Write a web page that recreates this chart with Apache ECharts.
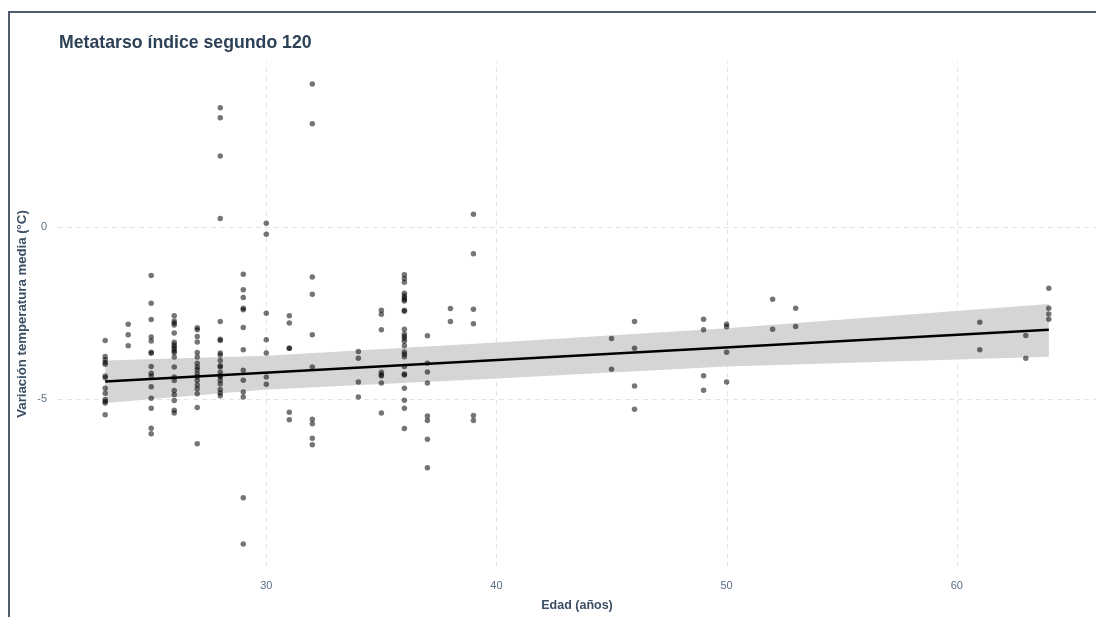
<!DOCTYPE html>
<html>
<head>
<meta charset="utf-8">
<script src="https://cdn.jsdelivr.net/npm/echarts@6/dist/echarts.min.js"></script>
<style>
  html, body { margin: 0; padding: 0; background: #fff; overflow: hidden; }
  #chart { position: absolute; left: 0; top: 0; width: 1096px; height: 617px; }
  #frame { position: absolute; left: 8px; top: 11px; width: 3000px; height: 3000px;
           border: 2px solid #4e5c6b; box-sizing: border-box; pointer-events: none; }
</style>
</head>
<body>
<div id="chart"></div>
<div id="frame"></div>
<script>
// ---- data ----
const chartTitle = "Metatarso índice segundo 120";
const xAxisTitle = "Edad (años)";
const yAxisTitle = "Variación temperatura media (°C)";
const xTicks = [30, 40, 50, 60];
const yTicks = [-5, 0];

const ages = [23, 24, 25, 26, 27, 28, 29, 30, 31, 32, 34, 35, 36, 37, 38, 39, 45, 46, 49, 50, 52, 53, 61, 63, 64];
const valuesByAge = [
  [-3.30,-3.76,-3.86,-3.94,-3.99,-4.33,-4.38,-4.68,-4.83,-5.01,-5.07,-5.11,-5.45],
  [-2.83,-3.13,-3.45],
  [-1.41,-2.22,-2.69,-3.20,-3.31,-3.64,-3.67,-4.05,-4.25,-4.33,-4.64,-4.97,-5.26,-5.84,-6.00],
  [-2.58,-2.73,-2.79,-2.85,-3.08,-3.35,-3.42,-3.48,-3.54,-3.60,-3.65,-3.78,-4.07,-4.36,-4.46,-4.75,-4.87,-5.04,-5.32,-5.40],
  [-2.93,-2.99,-3.18,-3.34,-3.65,-3.78,-3.96,-4.07,-4.15,-4.26,-4.35,-4.46,-4.59,-4.70,-4.84,-5.24,-6.29],
  [3.45,3.16,2.05,0.24,-2.75,-3.26,-3.30,-3.66,-3.72,-3.88,-4.03,-4.07,-4.22,-4.32,-4.35,-4.46,-4.56,-4.72,-4.82,-4.90],
  [-1.38,-1.83,-2.05,-2.36,-2.41,-2.92,-3.57,-4.16,-4.45,-4.79,-4.94,-7.86,-9.20],
  [0.10,-0.22,-2.51,-3.28,-3.66,-4.36,-4.57],
  [-2.58,-2.79,-3.52,-3.52,-5.38,-5.60],
  [4.14,2.99,-1.46,-1.96,-3.13,-4.07,-5.58,-5.71,-6.13,-6.32],
  [-3.62,-3.81,-4.50,-4.94],
  [-2.42,-2.54,-2.99,-4.22,-4.29,-4.33,-4.53,-5.40],
  [-1.39,-1.50,-1.61,-1.93,-2.00,-2.06,-2.11,-2.15,-2.42,-2.45,-2.97,-3.11,-3.18,-3.24,-3.32,-3.45,-3.63,-3.70,-3.77,-4.05,-4.27,-4.30,-4.68,-5.03,-5.26,-5.85],
  [-3.16,-3.96,-4.21,-4.53,-5.49,-5.62,-6.16,-6.99],
  [-2.37,-2.75],
  [0.36,-0.78,-2.39,-2.81,-5.47,-5.62],
  [-3.24,-4.13],
  [-2.75,-3.52,-4.62,-5.29],
  [-2.68,-2.99,-4.32,-4.74],
  [-2.83,-2.90,-3.64,-4.50],
  [-2.10,-2.97],
  [-2.36,-2.89],
  [-2.77,-3.57],
  [-3.15,-3.81],
  [-1.78,-2.36,-2.53,-2.68]
];

// fitted trend line and its confidence band
const fitX = [23, 64];
const fitY = [-4.49, -2.99];
const bandX = [23, 30, 40, 50, 64];
const bandLow = [-5.11, -4.72, -4.40, -4.05, -3.77];
const bandHigh = [-3.88, -3.74, -3.36, -2.94, -2.24];

// ---- build marks ----
const points = [];
ages.forEach((a, i) => valuesByAge[i].forEach(v => points.push([a, v])));
const fitLine = fitX.map((x, i) => [x, fitY[i]]);
const bandPoly = bandX.map((x, i) => [x, bandHigh[i]])
  .concat(bandX.map((x, i) => [x, bandLow[i]]).reverse());

// ---- axis ranges (5% expansion of the data range) ----
const allY = points.map(p => p[1]);
const yMinD = Math.min(...allY), yMaxD = Math.max(...allY);
const xMinD = Math.min(...ages), xMaxD = Math.max(...ages);
const xPad = (xMaxD - xMinD) * 0.05, yPad = (yMaxD - yMinD) * 0.05;
const xMin = xMinD - xPad, xMax = xMaxD + xPad, yMin = yMinD - yPad, yMax = yMaxD + yPad;

const FONT = 'Liberation Sans, Arial, sans-serif';
const tickColor = '#5a6f85';

const chart = echarts.init(document.getElementById('chart'), null, { renderer: 'canvas' });
chart.setOption({
  animation: false,
  backgroundColor: '#ffffff',
  title: {
    text: chartTitle, left: 54, top: 29,
    textStyle: { fontFamily: FONT, fontWeight: 'bold', fontSize: 17.7, color: '#2e4257' }
  },
  grid: { left: 58, right: 0, top: 61, bottom: 48, containLabel: false },
  xAxis: {
    type: 'value', min: xMin, max: xMax,
    name: xAxisTitle, nameLocation: 'middle', nameGap: 32, nameMoveOverlap: false,
    nameTextStyle: { fontFamily: FONT, fontWeight: 'bold', fontSize: 12.5, color: '#3b4e63' },
    axisLine: { show: false }, axisTick: { show: false },
    axisLabel: { customValues: xTicks, color: tickColor, fontSize: 11, fontFamily: FONT, margin: 13 },
    splitLine: { show: false }
  },
  yAxis: {
    type: 'value', min: yMin, max: yMax,
    name: yAxisTitle, nameLocation: 'middle', nameGap: 29, nameRotate: 90, nameMoveOverlap: false,
    nameTextStyle: { fontFamily: FONT, fontWeight: 'bold', fontSize: 13.2, color: '#3b4e63' },
    axisLine: { show: false }, axisTick: { show: false },
    axisLabel: { customValues: yTicks, color: tickColor, fontSize: 11, fontFamily: FONT, margin: 11 },
    splitLine: { show: false }
  },
  series: [
    { // dashed gridlines at the tick values
      type: 'custom', z: 0, silent: true, data: [[xTicks[0], yTicks[0]]],
      renderItem: (params, api) => {
        const children = [];
        const style = { stroke: '#e4e4e4', lineWidth: 1, lineDash: [5, 4] };
        xTicks.forEach(v => {
          const a = api.coord([v, yMin]), b = api.coord([v, yMax]);
          children.push({ type: 'line', shape: { x1: Math.round(a[0]) + 0.5, y1: a[1], x2: Math.round(b[0]) + 0.5, y2: b[1] }, style });
        });
        yTicks.forEach(v => {
          const a = api.coord([xMin, v]), b = api.coord([xMax, v]);
          children.push({ type: 'line', shape: { x1: a[0], y1: Math.round(a[1]) + 0.5, x2: b[0], y2: Math.round(b[1]) + 0.5 }, style });
        });
        return { type: 'group', children };
      }
    },
    { // confidence band
      type: 'custom', z: 1, silent: true, data: [[bandX[0], fitY[0]]],
      renderItem: (params, api) => ({
        type: 'polygon',
        shape: { points: bandPoly.map(p => api.coord(p)) },
        style: { fill: '#d5d5d5' }
      })
    },
    { type: 'scatter', data: points, symbolSize: 5.5, z: 2,
      itemStyle: { color: 'rgba(0,0,0,0.68)', borderWidth: 0 } },
    { type: 'line', data: fitLine, symbol: 'none', z: 3,
      lineStyle: { color: '#000000', width: 2.5 } }
  ]
});
</script>
</body>
</html>
